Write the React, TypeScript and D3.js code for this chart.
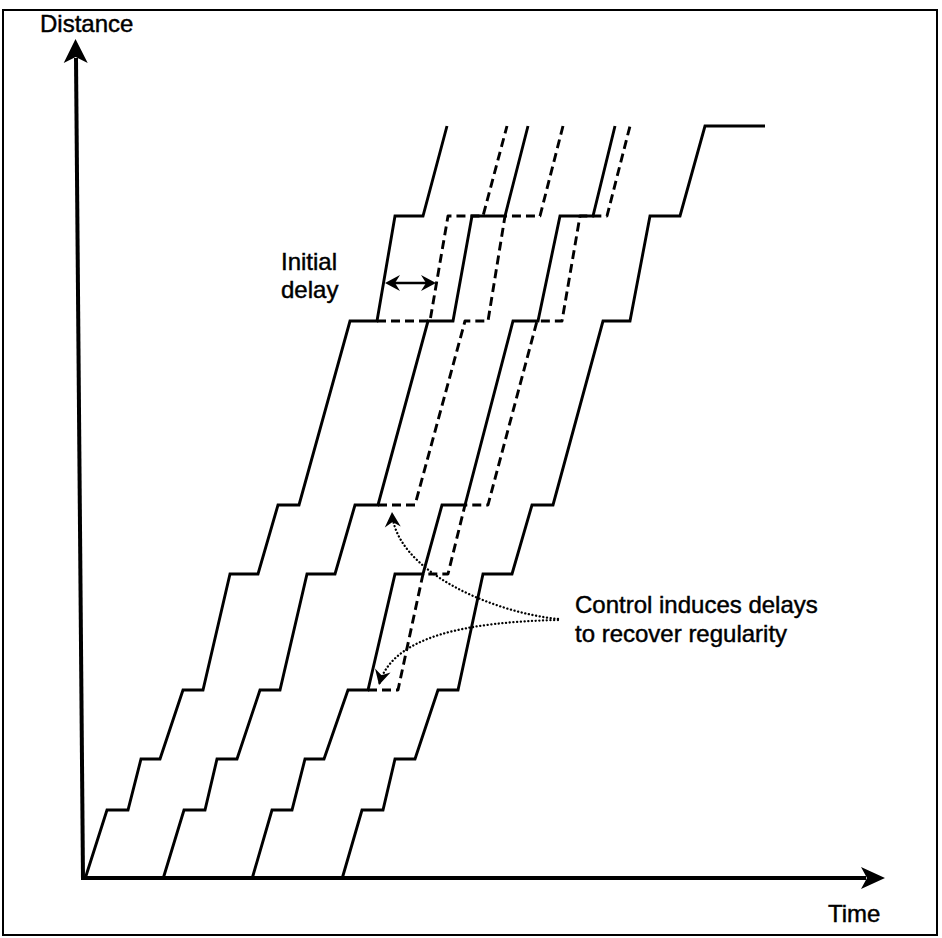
import React from "react";
import * as d3 from "d3";

// Stop positions along the route (distance units)
const stopDistances = [0, 6.9, 12.0, 18.9, 30.5, 37.4, 55.8, 66.3, 75.3];

// Original (uncontrolled) trajectories: arrival / departure time at each stop
const bus1Arrive = [0, 2.2, 5.6, 9.8, 14.5, 19.3, 26.5, 31.0, 36.2];
const bus1Depart = [0, 4.3, 7.5, 11.8, 17.3, 21.4, 29.2, 33.8, 36.2];
const bus2Arrive = [7.8, 9.9, 13.2, 17.5, 22.2, 27.0, 34.3, 38.7, 44.3];
const bus2Depart = [7.8, 12.0, 15.2, 19.5, 25.0, 29.3, 36.8, 42.0, 44.3];
const bus3Arrive = [16.7, 18.7, 22.0, 26.3, 31.0, 35.7, 42.8, 47.5, 53.0];
const bus3Depart = [16.7, 20.7, 23.9, 28.3, 33.8, 38.0, 45.3, 50.8, 53.0];
const bus4Arrive = [25.7, 27.7, 31.0, 35.3, 39.8, 44.7, 51.8, 56.5, 62.0];
const bus4Depart = [25.7, 29.8, 33.0, 37.3, 42.7, 46.8, 54.5, 59.5, 68.0];

// Delayed / controlled trajectories (dashed), starting at a given stop
const delayed1FirstStop = 6;
const delayed1Arrive = [29.2, 36.3, 42.2];
const delayed1Depart = [34.5, 39.8, 42.2];
const delayed2FirstStop = 5;
const delayed2Arrive = [29.3, 38.0, 42.0, 47.8];
const delayed2Depart = [33.0, 40.3, 45.5, 47.8];
const delayed3FirstStop = 3;
const delayed3Arrive = [28.3, 33.8, 38.0, 45.2, 49.5, 54.5];
const delayed3Depart = [31.3, 36.3, 40.3, 47.7, 52.2, 54.5];

// Annotation anchors (time, distance)
const initialDelayFrom: [number, number] = [30.0, 59.6];
const initialDelayTo: [number, number] = [35.1, 59.6];
const upperCurve: [number, number][] = [[47.3, 26.0], [40.5, 26.7], [31.0, 30.9], [30.7, 36.7]];
const lowerCurve: [number, number][] = [[47.3, 25.9], [38.5, 25.7], [30.7, 24.4], [29.4, 19.4]];

const W = 942;
const H = 938;
const FONT = "'Liberation Sans', Arial, Helvetica, sans-serif";

const x = d3.scaleLinear().domain([0, 80]).range([85, 885]);
const y = d3.scaleLinear().domain([0, 84]).range([879, 39]);

function buildPoints(firstStop: number, arrive: number[], depart: number[]): [number, number][] {
  const pts: [number, number][] = [];
  arrive.forEach((a, i) => {
    const d = stopDistances[firstStop + i];
    pts.push([a, d]);
    if (depart[i] !== a) pts.push([depart[i], d]);
  });
  return pts;
}

const line = d3
  .line<[number, number]>()
  .x((d) => x(d[0]))
  .y((d) => y(d[1]));

function arrowHead(tx: number, ty: number, angleDeg: number, len: number, halfW: number, notch: number) {
  const a = (angleDeg * Math.PI) / 180;
  const c = Math.cos(a);
  const s = Math.sin(a);
  const pts = [
    [0, 0],
    [-len, -halfW],
    [-len + notch, 0],
    [-len, halfW],
  ].map(([px, py]) => [tx + px * c - py * s, ty + px * s + py * c]);
  return "M" + pts.map((p) => p[0].toFixed(2) + "," + p[1].toFixed(2)).join("L") + "Z";
}

function curvePath(c: [number, number][]) {
  const p = d3.path();
  p.moveTo(x(c[0][0]), y(c[0][1]));
  p.bezierCurveTo(x(c[1][0]), y(c[1][1]), x(c[2][0]), y(c[2][1]), x(c[3][0]), y(c[3][1]));
  return p.toString();
}

function curveEndAngle(c: [number, number][]) {
  const dx = x(c[3][0]) - x(c[2][0]);
  const dy = y(c[3][1]) - y(c[2][1]);
  return (Math.atan2(dy, dx) * 180) / Math.PI;
}

export default function App() {
  const solid = [
    buildPoints(0, bus1Arrive, bus1Depart),
    buildPoints(0, bus2Arrive, bus2Depart),
    buildPoints(0, bus3Arrive, bus3Depart),
    buildPoints(0, bus4Arrive, bus4Depart),
  ];
  const dashed = [
    buildPoints(delayed1FirstStop, delayed1Arrive, delayed1Depart),
    buildPoints(delayed2FirstStop, delayed2Arrive, delayed2Depart),
    buildPoints(delayed3FirstStop, delayed3Arrive, delayed3Depart),
  ];

  const x0 = x(0);
  const y0 = y(0);
  const idx1 = x(initialDelayFrom[0]);
  const idx2 = x(initialDelayTo[0]);
  const idy = y(initialDelayFrom[1]);

  return (
    <svg
      width={W}
      height={H}
      viewBox={`0 0 ${W} ${H}`}
      style={{ position: "absolute", left: 0, top: 0, background: "#fff" }}
    >
      <rect x={0} y={0} width={W} height={H} fill="#fff" />
      <rect x={3} y={10} width={934} height={925} fill="none" stroke="#000" strokeWidth={2} />

      {/* axes */}
      <line x1={x0 - 2} y1={y0 + 1} x2={x0 - 9} y2={58} stroke="#000" strokeWidth={4} />
      <path d={arrowHead(x0 - 9.5, 39, -90.5, 24, 12, 6)} fill="#000" />
      <line x1={x0 - 4} y1={y0 - 1} x2={866} y2={y0 - 1} stroke="#000" strokeWidth={4} />
      <path d={arrowHead(885, y0 - 1, 0, 24, 11, 6)} fill="#000" />

      {/* trajectories */}
      {solid.map((pts, i) => (
        <path key={"s" + i} d={line(pts) || ""} fill="none" stroke="#000" strokeWidth={2.9} strokeLinejoin="miter" />
      ))}
      {dashed.map((pts, i) => (
        <path
          key={"d" + i}
          d={line(pts) || ""}
          fill="none"
          stroke="#000"
          strokeWidth={2.9}
          strokeDasharray="9 5"
          strokeLinejoin="round"
        />
      ))}

      {/* initial delay arrow */}
      <line x1={idx1 + 8} y1={idy} x2={idx2 - 8} y2={idy} stroke="#000" strokeWidth={2.5} />
      <path d={arrowHead(idx1, idy, 180, 15, 8, 5)} fill="#000" />
      <path d={arrowHead(idx2, idy, 0, 15, 8, 5)} fill="#000" />

      {/* control curves */}
      {[upperCurve, lowerCurve].map((c, i) => (
        <g key={"c" + i}>
          <path
            d={curvePath(c)}
            fill="none"
            stroke="#000"
            strokeWidth={2.3}
            strokeDasharray="0.1 3.6"
            strokeLinecap="round"
          />
          <path d={arrowHead(x(c[3][0]), y(c[3][1]), curveEndAngle(c), 15, 8, 5)} fill="#000" />
        </g>
      ))}

      {/* labels */}
      <g fontFamily={FONT} fontSize={24} fill="#000" stroke="#000" strokeWidth={0.45}>
        <text x={40} y={32}>Distance</text>
        <text x={828} y={922}>Time</text>
        <text x={281} y={270}>Initial</text>
        <text x={281} y={298}>delay</text>
        <text x={575} y={613}>Control induces delays</text>
        <text x={575} y={642}>to recover regularity</text>
      </g>
    </svg>
  );
}
